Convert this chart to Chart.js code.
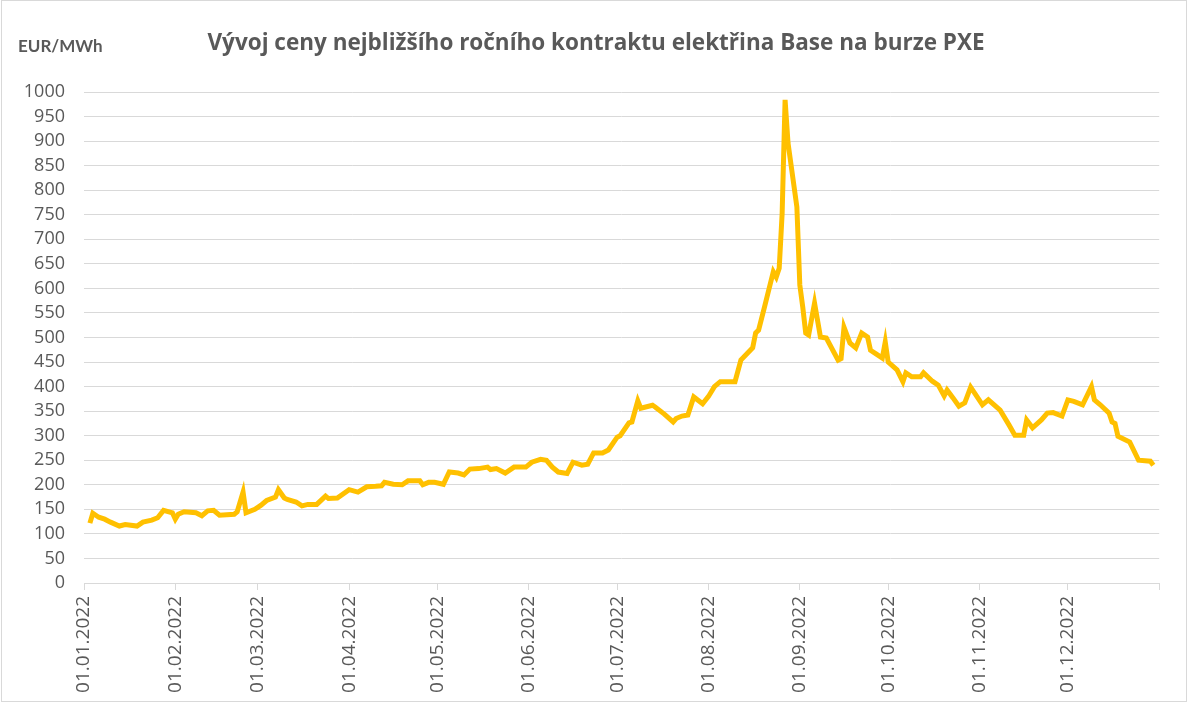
<!DOCTYPE html>
<html lang="cs">
<head>
<meta charset="UTF-8">
<title>Vývoj ceny ročního kontraktu PXE</title>
<script src="https://cdn.jsdelivr.net/npm/chart.js"></script>
<style>
  html, body { margin: 0; padding: 0; background: #fff; }
  #wrap { width: 1188px; height: 702px; position: relative; }
</style>
</head>
<body>
<div id="wrap"><canvas id="pxeChart"></canvas></div>
<script>
// texts
const chartTitle = 'Vývoj ceny nejbližšího ročního kontraktu elektřina Base na burze PXE';
const unitLabel = 'EUR/MWh';

// x axis ticks (first day of each month)
const monthTicks = ['01.01.2022', '01.02.2022', '01.03.2022', '01.04.2022', '01.05.2022', '01.06.2022',
                    '01.07.2022', '01.08.2022', '01.09.2022', '01.10.2022', '01.11.2022', '01.12.2022'];

// price series (DD.MM of 2022)
const dates = [
  '03.01','04.01','06.01','08.01','10.01','13.01','15.01','19.01','21.01','24.01','26.01','28.01','31.01',
  '01.02','02.02','04.02','08.02','10.02','12.02','14.02','16.02','21.02','22.02','24.02','25.02','28.02',
  '02.03','04.03','07.03','08.03','10.03','11.03','14.03','16.03','18.03','21.03','24.03','25.03','28.03',
  '01.04','04.04','07.04','10.04','12.04','13.04','16.04','19.04','21.04','25.04','26.04','28.04','30.04',
  '03.05','05.05','08.05','10.05','12.05','15.05','18.05','19.05','21.05','24.05','27.05','31.05',
  '02.06','05.06','07.06','09.06','11.06','14.06','16.06','19.06','21.06','23.06','26.06','28.06',
  '01.07','02.07','05.07','06.07','08.07','09.07','13.07','14.07','17.07','20.07','21.07','23.07','25.07','27.07','30.07',
  '01.08','03.08','05.08','10.08','12.08','16.08','17.08','18.08','20.08','23.08','24.08','25.08','26.08','27.08','28.08','31.08',
  '01.09','02.09','03.09','04.09','06.09','08.09','10.09','14.09','15.09','16.09','18.09','20.09','22.09','24.09','25.09','27.09','29.09','30.09',
  '01.10','04.10','06.10','07.10','09.10','12.10','13.10','16.10','18.10','20.10','21.10','23.10','25.10','27.10','29.10',
  '02.11','04.11','08.11','11.11','13.11','16.11','17.11','19.11','22.11','24.11','26.11','29.11',
  '01.12','03.12','06.12','09.12','10.12','12.12','15.12','16.12','17.12','18.12','22.12','25.12','29.12','30.12'
];
const prices = [
  122, 142, 134, 130, 124, 116, 119, 116, 124, 128, 133, 148, 143,
  130, 140, 145, 143, 137, 147, 148, 138, 140, 145, 185, 143, 150,
  158, 168, 175, 190, 173, 170, 165, 157, 160, 160, 177, 172, 173,
  190, 185, 196, 197, 198, 205, 201, 200, 208, 208, 200, 205, 205,
  201, 226, 224, 220, 232, 233, 236, 231, 233, 224, 236, 236,
  246, 252, 250, 236, 226, 223, 246, 240, 242, 265, 265, 271,
  297, 300, 326, 328, 371, 356, 362, 358, 344, 328, 335, 340, 342, 379, 365,
  380, 400, 410, 410, 454, 479, 509, 515, 562, 634, 623, 641, 753, 984, 896, 766,
  607, 562, 509, 505, 570, 501, 499, 454, 457, 521, 489, 479, 509, 501, 474, 466, 458, 491,
  450, 434, 410, 428, 420, 420, 428, 411, 403, 381, 393, 377, 360, 367, 399,
  363, 373, 352, 322, 301, 301, 332, 316, 332, 346, 347, 340,
  373, 370, 363, 400, 373, 363, 346, 328, 325, 299, 287, 250, 248, 240
];

const monthLengths = [31, 28, 31, 30, 31, 30, 31, 31, 30, 31, 30, 31];
const monthStart = monthLengths.map((_, i) => monthLengths.slice(0, i).reduce((a, b) => a + b, 0));
function dayOfYear(s) {
  const parts = s.split('.').map(Number);
  return monthStart[parts[1] - 1] + parts[0] - 1;
}

const points = dates.map((d, i) => ({ x: dayOfYear(d), y: prices[i] }));
const tickLabels = {};
monthTicks.forEach(t => { tickLabels[dayOfYear(t)] = t; });

const textColor = '#595959';
const gridColor = '#d9d9d9';

// title + unit label + outer frame
const headerPlugin = {
  id: 'header',
  afterDraw(chart) {
    const ctx = chart.ctx;
    ctx.save();
    ctx.fillStyle = textColor;
    ctx.textBaseline = 'middle';
    ctx.font = 'bold 22.5px "Open Sans"';
    ctx.textAlign = 'center';
    ctx.fillText(chartTitle, 596, 44);
    ctx.font = 'bold 17px Lato';
    ctx.textAlign = 'left';
    ctx.fillText(unitLabel, 18, 47);
    ctx.strokeStyle = gridColor;
    ctx.lineWidth = 1;
    ctx.strokeRect(1.5, 0.5, chart.width - 3, chart.height - 1);
    ctx.restore();
  }
};

new Chart(document.getElementById('pxeChart'), {
  type: 'line',
  data: {
    datasets: [{
      data: points,
      borderColor: '#FFC000',
      borderWidth: 5,
      pointRadius: 0,
      tension: 0,
      fill: false
    }]
  },
  options: {
    responsive: true,
    maintainAspectRatio: false,
    animation: false,
    layout: { padding: { top: 92, right: 19, left: 0, bottom: 0 } },
    plugins: { legend: { display: false }, tooltip: { enabled: false }, title: { display: false } },
    scales: {
      x: {
        type: 'linear',
        min: 0,
        max: 365,
        afterBuildTicks(scale) {
          scale.ticks = monthTicks.map(t => ({ value: dayOfYear(t) })).concat([{ value: 365 }]);
        },
        afterFit(scale) { scale.height = 119; },
        ticks: {
          autoSkip: false,
          minRotation: 90,
          maxRotation: 90,
          padding: 6,
          color: textColor,
          font: { family: 'Open Sans', size: 19 },
          callback: v => tickLabels[v] || ''
        },
        grid: { drawOnChartArea: false, drawTicks: true, tickLength: 7, color: gridColor },
        border: { display: true, color: gridColor }
      },
      y: {
        min: 0,
        max: 1000,
        afterFit(scale) { scale.width = 84; },
        ticks: {
          stepSize: 50,
          autoSkip: false,
          padding: 19,
          color: textColor,
          font: { family: 'Open Sans', size: 18 },
          callback: v => String(v)
        },
        grid: { color: gridColor, drawTicks: false },
        border: { display: false }
      }
    }
  },
  plugins: [headerPlugin]
});
</script>
</body>
</html>
